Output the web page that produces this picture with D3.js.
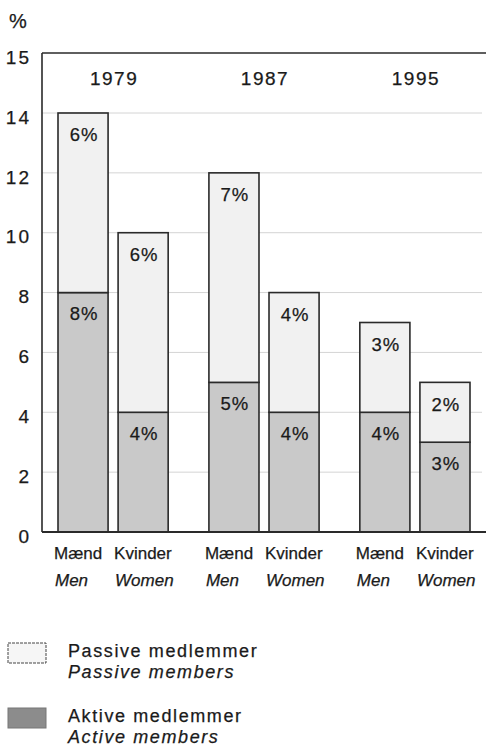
<!DOCTYPE html>
<html><head><meta charset="utf-8">
<script src="https://cdn.jsdelivr.net/npm/d3@7"></script>
<style>
html,body{margin:0;padding:0;background:#fff;}
text{font-family:"Liberation Sans",Arial,Helvetica,sans-serif;fill:#1a1a1a;stroke:#1a1a1a;stroke-width:0.25px;}
</style></head>
<body>
<svg id="chart" width="486" height="746"></svg>
<script>
const years = ["1979", "1987", "1995"];
const sexes = ["Mænd", "Kvinder"];
const sexesEn = ["Men", "Women"];
const activeMen = [8, 5, 4];
const passiveMen = [6, 7, 3];
const activeWomen = [4, 4, 3];
const passiveWomen = [6, 4, 2];
const yTicks = [0, 2, 4, 6, 8, 10, 12, 14, 15];
const legendDa = ["Passive medlemmer", "Aktive medlemmer"];
const legendEn = ["Passive members", "Active members"];

const svg = d3.select("#chart");
const left = 42, bottomY = 532;

// y-axis with the top section (14–15) stretched as in the original
const y = d3.scaleLinear().domain([0, 14, 15]).range([bottomY, 113, 53]);
const x0 = d3.scaleBand().domain(years).range([58, 470]).paddingInner(0.27).paddingOuter(0);
const x1 = d3.scaleBand().domain(sexes).range([0, x0.bandwidth()]).paddingInner(1/6).paddingOuter(0);

const rows = [];
years.forEach((yr, i) => {
  rows.push({year: yr, sex: sexes[0], en: sexesEn[0], active: activeMen[i], passive: passiveMen[i]});
  rows.push({year: yr, sex: sexes[1], en: sexesEn[1], active: activeWomen[i], passive: passiveWomen[i]});
});

// gridlines
svg.append("g").selectAll("line").data(yTicks.filter(t => t > 0 && t < 15)).join("line")
  .attr("x1", left).attr("x2", 482)
  .attr("y1", d => y(d)).attr("y2", d => y(d))
  .attr("stroke", "#d4d4d4").attr("stroke-width", 1);

// frame: top and left
svg.append("line").attr("x1", left).attr("x2", 486).attr("y1", y(15)).attr("y2", y(15))
  .attr("stroke", "#2a2a2a").attr("stroke-width", 1.6);
svg.append("line").attr("x1", left).attr("x2", left).attr("y1", y(15)).attr("y2", y(0))
  .attr("stroke", "#2a2a2a").attr("stroke-width", 1.6);

// y tick labels
svg.append("g").selectAll("text").data(yTicks).join("text")
  .attr("x", 31).attr("y", d => y(d) + 4)
  .attr("dy", "0.35em")
  .attr("text-anchor", "end")
  .style("font-size", "19px").style("letter-spacing", "2px")
  .text(d => d);
svg.append("text").attr("x", 9).attr("y", 28).style("font-size", "20px").style("letter-spacing", "1px").text("%");

// year labels
svg.append("g").selectAll("text").data(years).join("text")
  .attr("x", d => x0(d) + x0.bandwidth() / 2 + 1).attr("y", 78)
  .attr("dy", "0.35em").attr("text-anchor", "middle")
  .style("font-size", "19px").style("letter-spacing", "1.5px")
  .text(d => d);

const bars = svg.append("g");
rows.forEach(r => {
  const bx = x0(r.year) + x1(r.sex), bw = x1.bandwidth();
  // active
  bars.append("rect").attr("x", bx).attr("y", y(r.active)).attr("width", bw)
    .attr("height", y(0) - y(r.active)).attr("fill", "#c9c9c9")
    .attr("stroke", "#2a2a2a").attr("stroke-width", 1.6);
  // passive
  bars.append("rect").attr("x", bx).attr("y", y(r.active + r.passive)).attr("width", bw)
    .attr("height", y(r.active) - y(r.active + r.passive)).attr("fill", "#f1f1f1")
    .attr("stroke", "#2a2a2a").attr("stroke-width", 1.6);
  bars.append("text").attr("x", bx + bw / 2 + 1).attr("y", y(r.active + r.passive) + 22)
    .attr("dy", "0.35em").attr("text-anchor", "middle")
    .style("font-size", "18.5px").style("letter-spacing", "1px")
    .text(r.passive + "%");
  bars.append("text").attr("x", bx + bw / 2 + 1).attr("y", y(r.active) + 21)
    .attr("dy", "0.35em").attr("text-anchor", "middle")
    .style("font-size", "18.5px").style("letter-spacing", "1px")
    .text(r.active + "%");
  // category labels
  bars.append("text").attr("x", bx - 4).attr("y", 553).attr("dy", "0.35em")
    .style("font-size", "17px").text(r.sex);
  bars.append("text").attr("x", bx - 3).attr("y", 580).attr("dy", "0.35em")
    .style("font-size", "17px").style("font-style", "italic").text(r.en);
});

// bottom axis line
svg.append("line").attr("x1", left).attr("x2", 486).attr("y1", y(0)).attr("y2", y(0))
  .attr("stroke", "#2a2a2a").attr("stroke-width", 1.8);

// legend
const lg = svg.append("g");
const legFill = ["#f6f6f6", "#8c8c8c"];
const legY = [643, 708];
legendDa.forEach((t, i) => {
  lg.append("rect").attr("x", 8).attr("y", legY[i]).attr("width", 38).attr("height", 20)
    .attr("fill", legFill[i]).attr("stroke", i === 0 ? "#444" : "#777")
    .attr("stroke-width", 1).attr("stroke-dasharray", i === 0 ? "3,1" : null);
  lg.append("text").attr("x", 68).attr("y", legY[i] + 8).attr("dy", "0.35em")
    .style("font-size", "18px").style("letter-spacing", "1.6px").text(t);
  lg.append("text").attr("x", 68).attr("y", legY[i] + 29).attr("dy", "0.33em")
    .style("font-size", "18px").style("letter-spacing", "1.6px").style("font-style", "italic").text(legendEn[i]);
});
</script>
</body></html>
